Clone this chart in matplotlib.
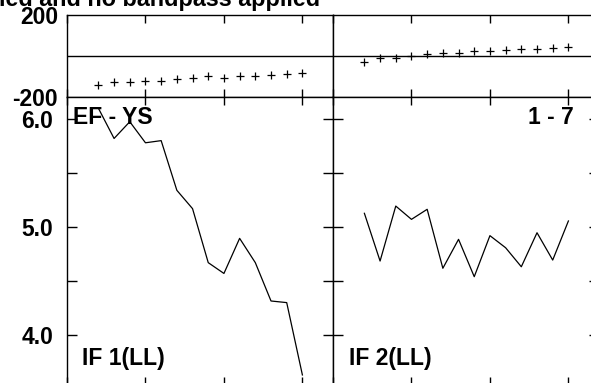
"""Baseline phase / amplitude vs time, two IFs side by side."""
import matplotlib

matplotlib.use("Agg")
import matplotlib.pyplot as plt  # noqa: E402

plt.rcParams["font.family"] = ["Liberation Sans", "DejaVu Sans"]
plt.rcParams["font.weight"] = "bold"
plt.rcParams["axes.unicode_minus"] = False

TITLE = "ied and no bandpass applied"
scans = [2, 3, 4, 5, 6, 7, 8, 9, 10, 11, 12, 13, 14, 15]
phase_if1 = [-141, -128, -128, -120, -120, -110, -107, -99, -105, -99, -98, -93, -90, -81]
phase_if2 = [-28, -8, -8, 2, 8, 13, 13, 24, 24, 29, 34, 34, 38, 45]
amp_if1 = [6.10, 5.82, 5.975, 5.78, 5.80, 5.34, 5.17, 4.67, 4.57, 4.895, 4.67, 4.315, 4.30, 3.63]
amp_if2 = [5.127, 4.685, 5.194, 5.071, 5.164, 4.618, 4.886, 4.540, 4.920, 4.808,
           4.632, 4.947, 4.694, 5.056]
corner_labels = ["EF - YS", "1 - 7"]
if_labels = ["IF 1(LL)", "IF 2(LL)"]
phase_ticks = [-200, 200]
amp_ticks = [4.0, 4.5, 5.0, 5.5, 6.0]
amp_ticklabels = ["4.0", "", "5.0", "", "6.0"]
x_ticks = [0, 5, 10, 15]

W, H = 591, 383
FS = 16.5


def _style(ax, xlen):
    ax.set_xticks(x_ticks)
    ax.set_xticklabels([])
    ax.tick_params(axis="x", direction="in", length=xlen, width=1.0,
                   top=True, bottom=True, colors="black")
    ax.tick_params(axis="y", direction="in", length=7, width=1.0,
                   left=True, right=True, labelsize=FS)
    for spine in ax.spines.values():
        spine.set_linewidth(1.0)
        spine.set_edgecolor("black")


fig = plt.figure(figsize=(W / 100, H / 100), dpi=100, facecolor="white")

panel_w = 266 / W
lefts = [67 / W, 333 / W]
phases = [phase_if1, phase_if2]
amps = [amp_if1, amp_if2]

for i in range(2):
    # phase strip on top
    top = fig.add_axes([lefts[i], 1 - 97 / H, panel_w, 82 / H])
    top.plot(scans, phases[i], linestyle="none", marker="+", markersize=6,
             markeredgewidth=0.9, color="black")
    top.axhline(0, color="black", linewidth=1.0)
    top.set_xlim(0, 16.95)
    top.set_ylim(-200, 200)
    _style(top, 6)
    top.set_yticks(phase_ticks)
    top.tick_params(axis="y", length=0, pad=6.5)
    if i > 0:
        top.set_yticklabels([])

    # amplitude below
    bot = fig.add_axes([lefts[i], 1 - 385 / H, panel_w, 288 / H])
    bot.plot(scans, amps[i], color="black", linewidth=0.9)
    bot.set_xlim(0, 16.95)
    bot.set_ylim(3.537, 6.204)
    _style(bot, 6)
    bot.set_yticks(amp_ticks)
    bot.set_yticklabels(amp_ticklabels if i == 0 else [])
    bot.tick_params(axis="y", pad=10)

    if i == 0:
        bot.text(0.0226, 0.906, corner_labels[i], transform=bot.transAxes,
                 ha="left", va="baseline", fontsize=FS, fontweight="bold")
    else:
        bot.text(0.905, 0.906, corner_labels[i], transform=bot.transAxes,
                 ha="right", va="baseline", fontsize=FS, fontweight="bold")
    bot.text(0.056 if i == 0 else 0.06, 0.069, if_labels[i], transform=bot.transAxes,
             ha="left", va="baseline", fontsize=FS, fontweight="bold")

# header line of the original plot, clipped by the top edge
fig.text(320 / W, 1 - 6 / H, TITLE, ha="right", va="baseline",
         fontsize=FS + 0.3, fontweight="bold")

fig.savefig("out.png", dpi=100, facecolor="white")
